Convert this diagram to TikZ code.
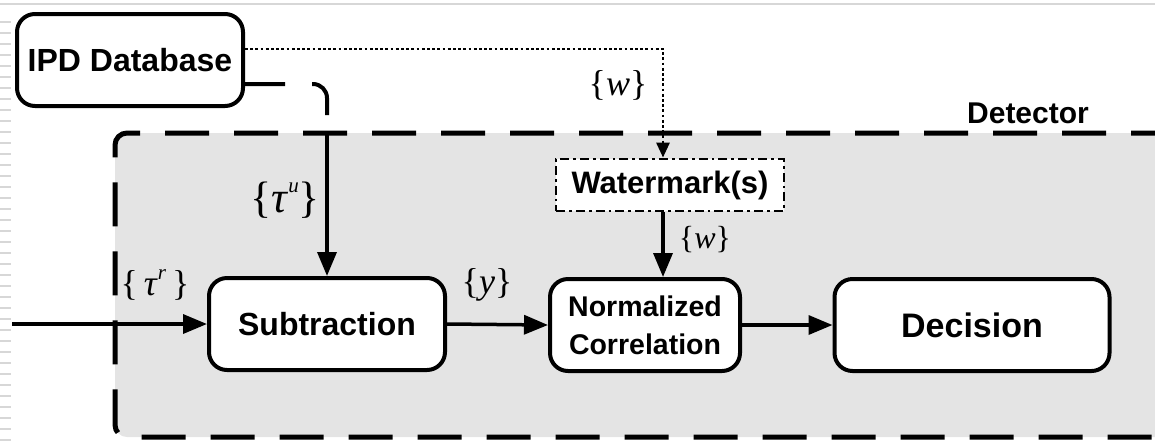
\documentclass[tikz,border=0pt]{standalone}
\usepackage{fontspec}
\setmainfont{Liberation Sans}
\newfontfamily\lserif{Liberation Serif}
\usetikzlibrary{arrows.meta,calc}
\definecolor{detgray}{RGB}{228,228,228}
\definecolor{artgray}{RGB}{215,215,215}
\newcommand{\supit}[1]{\raisebox{0.45em}{\fontsize{21}{24}\selectfont\itshape #1}}
\begin{document}
\begin{tikzpicture}[x=1pt,y=-1pt,
  box/.style={draw, line width=4pt, rounded corners=18pt, fill=white,
    font=\fontsize{32}{37}\selectfont\bfseries, align=center, inner sep=0pt},
  arr/.style={line width=3.5pt, -{Triangle[length=24pt,width=19pt]}},
  lbl/.style={inner sep=0pt, font=\lserif},
  detbox/.style={line width=5pt, dash pattern=on 44pt off 25pt, fill=detgray, rounded corners=12pt},
  dotarr/.style={line width=2.8pt, dash pattern=on 2.8pt off 2.4pt, -{Triangle[length=15pt,width=13pt]}},
  dashconn/.style={line width=4pt, dash pattern=on 40pt off 27pt, rounded corners=14pt},
  wmbox/.style={draw, line width=2.8pt, dash pattern=on 9pt off 4pt on 2.8pt off 4pt, fill=white,
    font=\fontsize{31}{34}\selectfont\bfseries, inner sep=0pt}]
\useasboundingbox (0,0) rectangle (1155,440);
\clip (0,0) rectangle (1155,440);
% screenshot artefacts
\draw[artgray, line width=1.5pt] (0,4) -- (1155,4);
\foreach \yy in {22,33,...,440} \draw[artgray, line width=1.5pt] (0,\yy) -- (11,\yy);
% detector region
\draw[detbox] (1175,133) -- (115,133) -- (115,437) -- (1175,437);
\node[inner sep=0pt, font=\fontsize{30}{34}\selectfont\bfseries] (detlbl) at (1028,113) {Detector};
% nodes
\node[box, minimum width=226pt, minimum height=92pt] (ipd) at (130,60) {IPD Database};
\node[box, minimum width=236pt, minimum height=92pt] (sub) at (327,324) {Subtraction};
\node[box, minimum width=190pt, minimum height=92pt, font=\fontsize{28.5}{38}\selectfont\bfseries] (nc) at (645,325) {Normalized\\Correlation};
\node[box, minimum width=275pt, minimum height=92pt, font=\fontsize{34}{38}\selectfont\bfseries] (dec) at (972,325) {Decision};
\node[wmbox, minimum width=228pt, minimum height=52pt] (wm) at (670,185) {Watermark(s)};
% connectors
\coordinate (in) at (12,324);
\coordinate (dt) at (327,133);
\draw[dotarr] ([yshift=11pt]ipd.east) -| ([xshift=-7pt]wm.north);
\draw[dashconn] ([yshift=-24pt]ipd.east) -| (dt);
\draw[arr] (dt) -- (sub.north);
\draw[arr] ([xshift=-7pt]wm.south) -- ([xshift=18pt]nc.north);
\draw[arr] (in) -- (sub.west);
\draw[arr] (sub.east) -- (nc.west);
\draw[arr] (nc.east) -- (dec.west);
% labels
\node[lbl, font=\lserif\fontsize{36}{40}\selectfont] (lw1) at (618,85) {\{\textit{w}\}};
\node[lbl, font=\lserif\fontsize{44}{48}\selectfont] (ltu) at (285,200) {\{\textit{τ}\supit{u}\}};
\node[lbl, font=\lserif\fontsize{36}{40}\selectfont] (ltr) at (155,285) {\{\,\textit{τ}\supit{r}\,\}};
\node[lbl, font=\lserif\fontsize{36}{40}\selectfont] (ly) at (487,285) {\{\textit{y}\}};
\node[lbl, font=\lserif\fontsize{32}{36}\selectfont] (lw2) at (705,240) {\{\textit{w}\}};
\end{tikzpicture}
\end{document}
